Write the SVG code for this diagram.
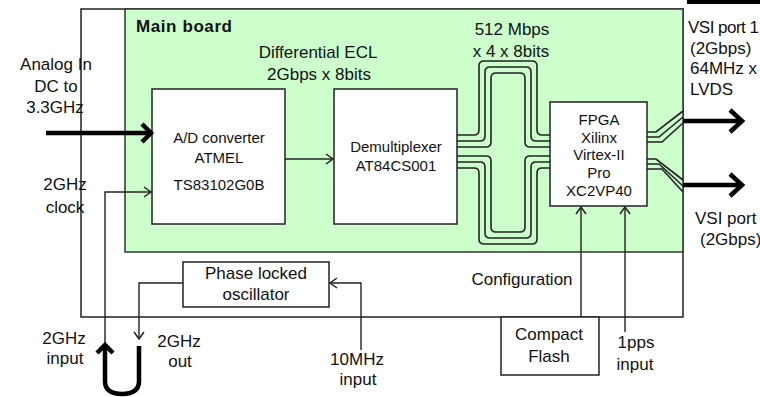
<svg xmlns="http://www.w3.org/2000/svg" width="760" height="397" viewBox="0 0 760 397">
<style>
text{font-family:"Liberation Sans",Arial,sans-serif;fill:#111;font-size:17px}
.s{font-size:15px}
.c{text-anchor:middle}
.box{fill:#fff;stroke:#222;stroke-width:1.5}
.ln{fill:none;stroke:#222;stroke-width:1.4}
.bus{fill:none;stroke:#222;stroke-width:1.6}
.thick{fill:none;stroke:#000;stroke-width:4.5}
</style>
<defs>
<marker id="open" markerUnits="userSpaceOnUse" markerWidth="14" markerHeight="14" viewBox="-10 -7 12 14" refX="0" refY="0" orient="auto">
<path d="M-7,-5 L0,0 L-7,5" fill="none" stroke="#222" stroke-width="1.5"/>
</marker>
</defs>
<rect width="760" height="397" fill="#fff"/>
<g id="outer"><rect x="81" y="9" width="602" height="308" class="box"/></g>
<g id="mainboard"><rect x="125" y="9" width="558" height="243" fill="#ccffcc" stroke="#333" stroke-width="1.5"/>
<text x="136" y="32" font-weight="bold" textLength="96">Main board</text></g>
<rect x="687" y="0" width="73" height="4" fill="#000"/>
<g id="adc"><rect x="152" y="89" width="133" height="135" class="box"/>
<text class="s c" x="219" y="143">A/D converter</text>
<text class="s c" x="219" y="163">ATMEL</text>
<text class="s c" x="219" y="190">TS83102G0B</text></g>
<g id="demux"><rect x="334" y="89" width="123" height="135" class="box"/>
<text class="s c" x="396" y="152">Demultiplexer</text>
<text class="s c" x="396" y="171">AT84CS001</text></g>
<g id="fpga"><rect x="550" y="102" width="97" height="104" class="box"/>
<text class="s c" x="599" y="125">FPGA</text>
<text class="s c" x="599" y="143">Xilinx</text>
<text class="s c" x="599" y="160">Virtex-II</text>
<text class="s c" x="599" y="178">Pro</text>
<text class="s c" x="599" y="196">XC2VP40</text></g>
<g id="plo"><rect x="183" y="262" width="146" height="45" class="box"/>
<text class="c" x="256" y="279">Phase locked</text>
<text class="c" x="256" y="300">oscillator</text></g>
<g id="cf"><rect x="501" y="317" width="98" height="58" class="box"/>
<text class="c" x="549" y="340">Compact</text>
<text class="c" x="549" y="362">Flash</text></g>
<g id="labels">
<text class="c" x="318" y="58">Differential ECL</text>
<text class="c" x="319" y="80">2Gbps x 8bits</text>
<text class="c" x="512" y="35">512 Mbps</text>
<text class="c" x="511" y="57">x 4 x 8bits</text>
<text x="688" y="33" font-size="16" textLength="71">VSI port 1</text>
<text x="690" y="54">(2Gbps)</text>
<text x="690" y="74">64MHz x</text>
<text x="690" y="95">LVDS</text>
<text x="695" y="224">VSI port</text>
<text x="700" y="245" font-size="16.5">(2Gbps)</text>
<text class="c" x="56" y="70">Analog In</text>
<text class="c" x="56" y="92">DC to</text>
<text class="c" x="55" y="113">3.3GHz</text>
<text class="c" x="65" y="190">2GHz</text>
<text class="c" x="65" y="213">clock</text>
<text class="c" x="64" y="344">2GHz</text>
<text class="c" x="65" y="364">input</text>
<text class="c" x="179" y="347">2GHz</text>
<text class="c" x="180" y="367">out</text>
<text class="c" x="357" y="365">10MHz</text>
<text class="c" x="358" y="385">input</text>
<text class="c" x="522" y="285">Configuration</text>
<text class="c" x="636" y="348">1pps</text>
<text class="c" x="635" y="370">input</text>
</g>
<g id="connectors">
<path class="ln" d="M285,159 H333" marker-end="url(#open)"/>
<path class="ln" d="M105,343 V192 H151" marker-end="url(#open)"/>
<path class="ln" d="M183,283 H139 V339" marker-end="url(#open)"/>
<path class="ln" d="M361,350 V283 H330" marker-end="url(#open)"/>
<path class="ln" d="M581,317 V207" marker-end="url(#open)"/>
<path class="ln" d="M625,332 V207" marker-end="url(#open)"/>
<path class="thick" d="M46,133 H150"/>
<path class="thick" d="M142,124 L151,133 L142,142"/>
<path class="thick" d="M139,346 V381 Q139,394 122,394 Q105,394 105,381 V346"/>
<path class="thick" d="M97,353 L105,345 L113,353"/>
<g class="bus">
<path d="M457,135 H474 Q479,135 479,130 V66 Q479,61 484,61 H532 Q537,61 537,66 V130 Q537,135 542,135 H550"/>
<path d="M457,141 H480 Q485,141 485,136 V72 Q485,67 490,67 H526 Q531,67 531,72 V136 Q531,141 536,141 H550"/>
<path d="M457,147 H486 Q491,147 491,142 V78 Q491,73 496,73 H520 Q525,73 525,78 V142 Q525,147 530,147 H550"/>
<path d="M457,168 H474 Q479,168 479,173 V239 Q479,244 484,244 H532 Q537,244 537,239 V173 Q537,168 542,168 H550"/>
<path d="M457,162 H480 Q485,162 485,167 V233 Q485,238 490,238 H526 Q531,238 531,233 V167 Q531,162 536,162 H550"/>
<path d="M457,156 H486 Q491,156 491,161 V227 Q491,232 496,232 H520 Q525,232 525,227 V161 Q525,156 530,156 H550"/>
<path d="M647,132 H656 L683,111"/>
<path d="M647,137 H659 L683,117"/>
<path d="M647,142 H662 L683,123"/>
<path d="M647,159 H656 L683,180"/>
<path d="M647,164 H659 L683,186"/>
<path d="M647,169 H662 L683,192"/>
</g>
<path class="thick" d="M683,121 H741" stroke-width="5"/>
<path class="thick" d="M730,110 L742,121 L730,132" stroke-width="5"/>
<path class="thick" d="M683,185 H741" stroke-width="5"/>
<path class="thick" d="M730,174 L742,185 L730,196" stroke-width="5"/>
</g>
</svg>
